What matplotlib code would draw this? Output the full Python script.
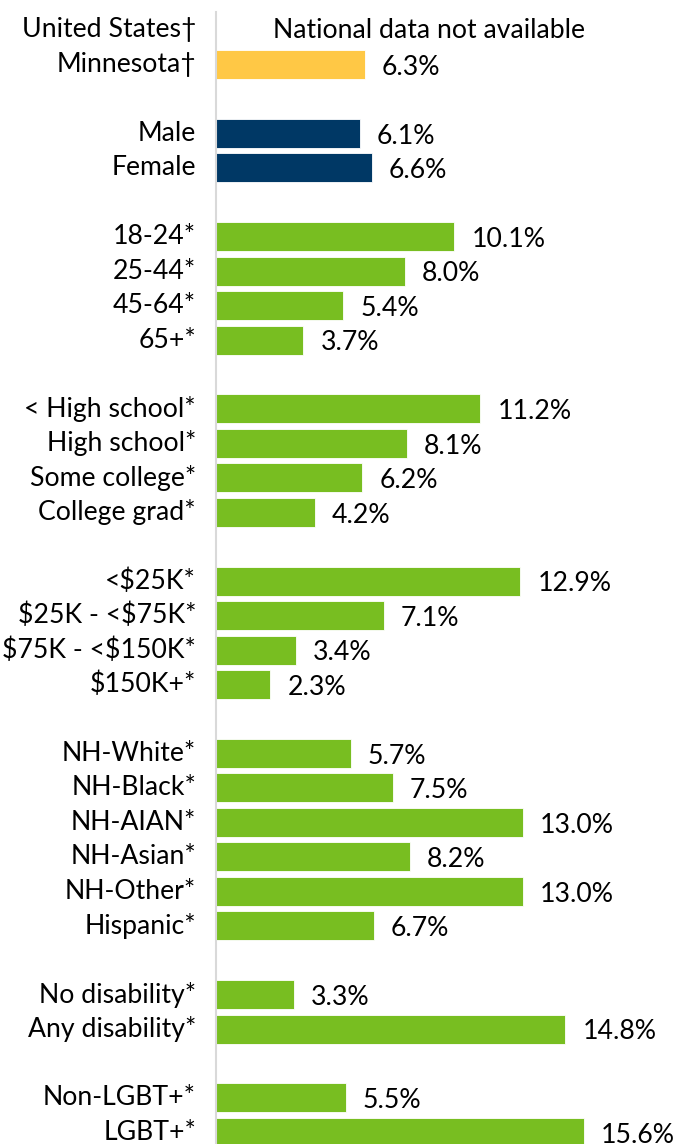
import matplotlib.pyplot as plt

plt.rcParams['font.family'] = ['Lato', 'DejaVu Sans']
plt.rcParams['text.parse_math'] = False

# Rows grouped by demographic; None marks a row without a value
overall_labels = ['United States\u2020', 'Minnesota\u2020']
overall_values = [None, 6.3]
sex_labels = ['Male', 'Female']
sex_values = [6.1, 6.6]
age_labels = ['18-24*', '25-44*', '45-64*', '65+*']
age_values = [10.1, 8.0, 5.4, 3.7]
edu_labels = ['< High school*', 'High school*', 'Some college*', 'College grad*']
edu_values = [11.2, 8.1, 6.2, 4.2]
income_labels = ['<$25K*', '$25K - <$75K*', '$75K - <$150K*', '$150K+*']
income_values = [12.9, 7.1, 3.4, 2.3]
race_labels = ['NH-White*', 'NH-Black*', 'NH-AIAN*', 'NH-Asian*', 'NH-Other*', 'Hispanic*']
race_values = [5.7, 7.5, 13.0, 8.2, 13.0, 6.7]
disab_labels = ['No disability*', 'Any disability*']
disab_values = [3.3, 14.8]
lgbt_labels = ['Non-LGBT+*', 'LGBT+*']
lgbt_values = [5.5, 15.6]

GOLD = '#FFC845'
NAVY = '#003865'
GREEN = '#78BE21'

groups = [
    (overall_labels, overall_values, GOLD),
    (sex_labels, sex_values, NAVY),
    (age_labels, age_values, GREEN),
    (edu_labels, edu_values, GREEN),
    (income_labels, income_values, GREEN),
    (race_labels, race_values, GREEN),
    (disab_labels, disab_values, GREEN),
    (lgbt_labels, lgbt_values, GREEN),
]

W, H = 675, 1144
fig = plt.figure(figsize=(W / 100, H / 100), dpi=100)

# layout in pixels
px_per_pct = 23.6
row_px = 34.45
row0_px = 30
top_px = 12
bottom_px = 1165
left_px = 216

ax = fig.add_axes([left_px / W, 1 - bottom_px / H,
                   (W - left_px) / W, (bottom_px - top_px) / H])
ax.set_xlim(0, (W - left_px) / px_per_pct)
ax.set_ylim((bottom_px - row0_px) / row_px, (top_px - row0_px) / row_px)

fs = 19.2
row = 0
for labels, values, color in groups:
    for lab, val in zip(labels, values):
        ax.text(-20 / px_per_pct, row, lab, ha='right', va='center',
                fontsize=fs, color='black')
        if val is None:
            ax.text(57 / px_per_pct, row, 'National data not available', ha='left',
                    va='center', fontsize=fs, color='black')
        else:
            ax.barh(row, val, height=0.84, color=color,
                    edgecolor='white', linewidth=0.6)
            ax.text(val + 17 / px_per_pct, row + 0.08, f'{val:.1f}%',
                    ha='left', va='center', fontsize=fs, color='black')
        row += 1
    row += 1

for s in ['top', 'right', 'bottom']:
    ax.spines[s].set_visible(False)
ax.spines['left'].set_color('#d9d9d9')
ax.spines['left'].set_linewidth(1.5)
ax.set_xticks([])
ax.set_yticks([])

fig.savefig('out.png', dpi=100)
